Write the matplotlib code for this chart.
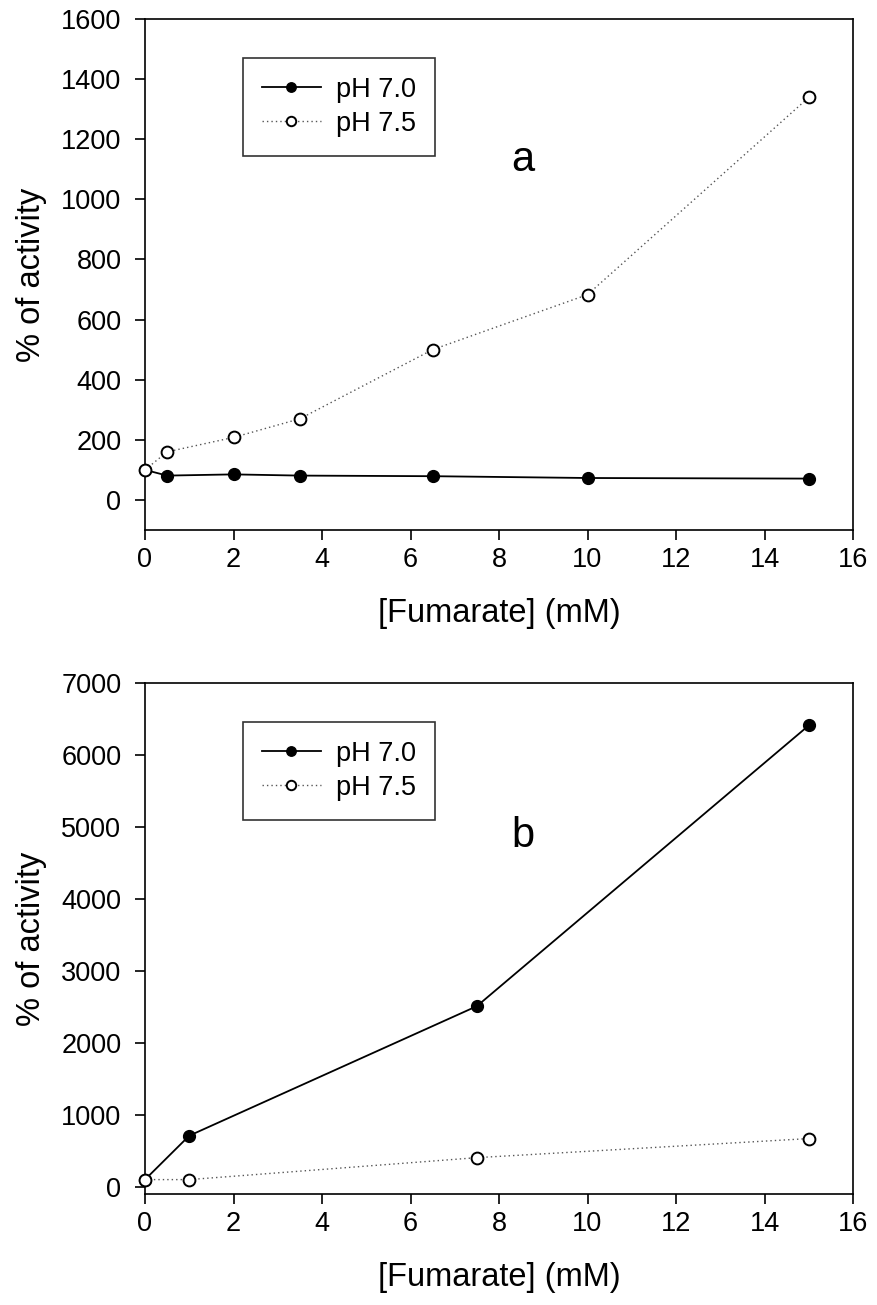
import matplotlib
matplotlib.use("Agg")
import matplotlib.pyplot as plt

plt.rcParams['font.family'] = ['Liberation Sans', 'DejaVu Sans']

# Panel a: activity vs fumarate concentration
fum_a = [0, 0.5, 2, 3.5, 6.5, 10, 15]
a_ph70 = [100, 81, 85, 81, 79, 73, 71]
a_ph75 = [100, 160, 208, 270, 500, 683, 1339]

# Panel b
fum_b = [0, 1, 7.5, 15]
b_ph70 = [100, 710, 2510, 6410]
b_ph75 = [100, 100, 405, 670]

series_labels = ["pH 7.0", "pH 7.5"]
x_ticks = list(range(0, 17, 2))
a_yticks = list(range(0, 1601, 200))
b_yticks = list(range(0, 7001, 1000))

W, H = 877, 1305
fig = plt.figure(figsize=(W / 100, H / 100), dpi=100)

left = 145 / W
width = 708 / W
height = 511 / H
ax_a = fig.add_axes([left, 1 - 530 / H, width, height])
ax_b = fig.add_axes([left, 1 - 1194 / H, width, height])

TICK_FS = 19.5
LABEL_FS = 23.5


def draw(ax, x, y70, y75, ylim, yticks, letter, letter_y):
    ax.plot(x, y75, linestyle=(0, (1, 2.2)), color='#555555', lw=1.0,
            marker='o', markersize=8.5, markerfacecolor='white',
            markeredgecolor='black', markeredgewidth=1.4,
            label=series_labels[1], zorder=4, clip_on=False)
    ax.plot(x, y70, linestyle='-', color='black', lw=1.3,
            marker='o', markersize=8.5, markerfacecolor='black',
            markeredgecolor='black', label=series_labels[0], zorder=3,
            clip_on=False)
    ax.set_xlim(0, 16)
    ax.set_ylim(*ylim)
    ax.set_xticks(x_ticks)
    ax.set_yticks(yticks)
    ax.tick_params(direction='out', length=7, width=1.2, labelsize=TICK_FS)
    ax.tick_params(axis='x', pad=5)
    ax.tick_params(axis='y', pad=10)
    for sp in ax.spines.values():
        sp.set_linewidth(1.2)
    ax.set_xlabel('[Fumarate] (mM)', fontsize=LABEL_FS, labelpad=18)
    ax.set_ylabel('% of activity', fontsize=LABEL_FS, labelpad=10)
    handles, labels = ax.get_legend_handles_labels()
    leg = ax.legend(handles[::-1], labels[::-1], loc='upper left',
                    bbox_to_anchor=(0.138, 0.924), fontsize=TICK_FS,
                    frameon=True, fancybox=False, edgecolor='black',
                    borderpad=0.7, handlelength=2.2, handletextpad=0.55,
                    labelspacing=0.3, markerscale=0.8, borderaxespad=0)
    leg.get_frame().set_linewidth(1.2)
    ax.text(0.534, letter_y, letter, transform=ax.transAxes,
            fontsize=30, ha='center', va='center')


draw(ax_a, fum_a, a_ph70, a_ph75, (-100, 1600), a_yticks, 'a', 0.724)
draw(ax_b, fum_b, b_ph70, b_ph75, (-100, 7000), b_yticks, 'b', 0.70)

fig.savefig('out.png', dpi=100)
